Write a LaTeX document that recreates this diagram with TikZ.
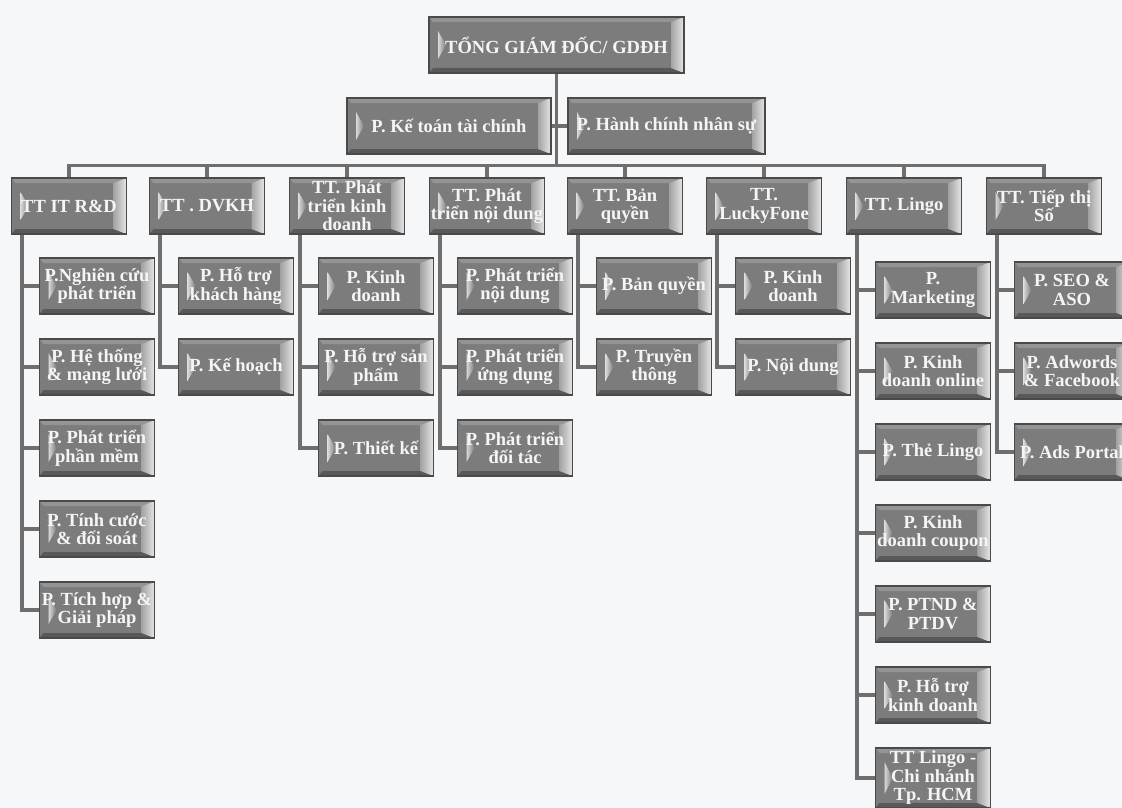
\documentclass[tikz,border=0pt]{standalone}
\usepackage{fontspec}
\setmainfont{Liberation Serif}
\usetikzlibrary{backgrounds}
\definecolor{bg}{HTML}{F6F7F9}
\definecolor{boxfill}{HTML}{7C7C7C}
\definecolor{boxedge}{HTML}{4A4A4A}
\definecolor{wirec}{HTML}{6E6E6E}
\newcommand\oneline[1]{\makebox[0pt]{#1}}
\tikzset{
  bx/.style={draw=boxedge, line width=1.2pt, fill=boxfill, minimum width=115pt,
    minimum height=56pt, inner sep=0pt, align=center, text=white!96!black,
    font=\fontsize{18.5}{18.5}\selectfont\bfseries,
    path picture={
      \fill[boxfill!82!white] (path picture bounding box.north west) -- (path picture bounding box.north east)
        -- ([xshift=-13pt,yshift=-5pt]path picture bounding box.north east)
        -- ([xshift=4pt,yshift=-5pt]path picture bounding box.north west) -- cycle;
      \fill[boxfill!72!black] (path picture bounding box.south west) -- (path picture bounding box.south east)
        -- ([xshift=-13pt,yshift=5pt]path picture bounding box.south east)
        -- ([xshift=4pt,yshift=5pt]path picture bounding box.south west) -- cycle;
      \shade[left color=boxfill!70!white, right color=white!90!black]
        (path picture bounding box.north east) -- ([xshift=-13pt,yshift=-5pt]path picture bounding box.north east)
        -- ([xshift=-13pt,yshift=5pt]path picture bounding box.south east) -- (path picture bounding box.south east) -- cycle;
      \shade[left color=white!85!black, right color=boxfill]
        ([xshift=9pt,yshift=-14pt]path picture bounding box.north west) -- ([xshift=17pt]path picture bounding box.west)
        -- ([xshift=9pt,yshift=14pt]path picture bounding box.south west) -- cycle;
    }},
  wire/.style={draw=wirec, line width=3.6pt},
}
\begin{document}
\begin{tikzpicture}[x=1pt,y=-1pt]
\useasboundingbox (0,0) rectangle (1122,808);
% top levels
\node[bx, minimum width=255pt] (top) at (556.5,45) {TỔNG GIÁM ĐỐC/ GDĐH};
\node[bx, minimum width=204pt] (kt) at (449,126) {\oneline{P. Kế toán tài chính}};
\node[bx, minimum width=197pt] (hc) at (666.5,126) {\oneline{P. Hành chính nhân sự}};
% centres
\node[bx] (c1) at (69,206) {\oneline{TT IT R\&D}};
\node[bx] (c2) at (207,206) {\oneline{TT . DVKH}};
\node[bx] (c3) at (347,206) {\oneline{TT. Phát}\\\oneline{triển kinh}\\\oneline{doanh}};
\node[bx] (c4) at (487,206) {\oneline{TT. Phát}\\\oneline{triển nội dung}};
\node[bx] (c5) at (625,206) {\oneline{TT. Bản}\\\oneline{quyền}};
\node[bx] (c6) at (764,206) {\oneline{TT.}\\\oneline{LuckyFone}};
\node[bx] (c7) at (904,206) {\oneline{TT. Lingo}};
\node[bx] (c8) at (1044,206) {\oneline{TT. Tiếp thị}\\\oneline{Số}};
% column 1
\node[bx] (a1) at (97,286) {\oneline{P.Nghiên cứu}\\\oneline{phát triển}};
\node[bx] (a2) at (97,367) {\oneline{P. Hệ thống}\\\oneline{\& mạng lưới}};
\node[bx] (a3) at (97,448) {\oneline{P. Phát triển}\\\oneline{phần mềm}};
\node[bx] (a4) at (97,529) {\oneline{P. Tính cước}\\\oneline{\& đối soát}};
\node[bx] (a5) at (97,610) {\oneline{P. Tích hợp \&}\\\oneline{Giải pháp}};
% column 2
\node[bx] (b1) at (236,286) {\oneline{P. Hỗ trợ}\\\oneline{khách hàng}};
\node[bx] (b2) at (236,367) {\oneline{P. Kế hoạch}};
% column 3
\node[bx] (d1) at (376,286) {\oneline{P. Kinh}\\\oneline{doanh}};
\node[bx] (d2) at (376,367) {\oneline{P. Hỗ trợ sản}\\\oneline{phẩm}};
\node[bx] (d3) at (376,448) {\oneline{P. Thiết kế}};
% column 4
\node[bx] (e1) at (515,286) {\oneline{P. Phát triển}\\\oneline{nội dung}};
\node[bx] (e2) at (515,367) {\oneline{P. Phát triển}\\\oneline{ứng dụng}};
\node[bx] (e3) at (515,448) {\oneline{P. Phát triển}\\\oneline{đối tác}};
% column 5
\node[bx] (f1) at (654,286) {\oneline{P. Bản quyền}};
\node[bx] (f2) at (654,367) {\oneline{P. Truyền}\\\oneline{thông}};
% column 6
\node[bx] (g1) at (793,286) {\oneline{P. Kinh}\\\oneline{doanh}};
\node[bx] (g2) at (793,367) {\oneline{P. Nội dung}};
% column 7
\node[bx] (h1) at (933,290) {\oneline{P.}\\\oneline{Marketing}};
\node[bx] (h2) at (933,371) {\oneline{P. Kinh}\\\oneline{doanh online}};
\node[bx] (h3) at (933,452) {\oneline{P. Thẻ Lingo}};
\node[bx] (h4) at (933,533) {\oneline{P. Kinh}\\\oneline{doanh coupon}};
\node[bx] (h5) at (933,614) {\oneline{P. PTND \&}\\\oneline{PTDV}};
\node[bx] (h6) at (933,695) {\oneline{P. Hỗ trợ}\\\oneline{kinh doanh}};
\node[bx, minimum height=60pt] (h7) at (933,778) {\oneline{TT Lingo -}\\\oneline{Chi nhánh}\\\oneline{Tp. HCM}};
% column 8
\node[bx] (k1) at (1072,290) {\oneline{P. SEO \&}\\\oneline{ASO}};
\node[bx] (k2) at (1072,371) {\oneline{P. Adwords}\\\oneline{\& Facebook}};
\node[bx] (k3) at (1072,452) {\oneline{P. Ads Portal}};
% connectors
\begin{pgfonlayer}{background}
\fill[bg] (0,0) rectangle (1122,808);
\draw[wire] (top.south) -- ([yshift=12pt]top.south |- c1.north);
\draw[wire] (kt.east) -- (hc.west);
\draw[wire] (c1.north) -- ++(0,-12) -| (c8.north);
\foreach \n in {c2,c3,c4,c5,c6,c7} \draw[wire] (\n.north) -- ++(0,-12);
\foreach \p/\kids in {c1/{a1,a2,a3,a4,a5}, c2/{b1,b2}, c3/{d1,d2,d3}, c4/{e1,e2,e3},
    c5/{f1,f2}, c6/{g1,g2}, c7/{h1,h2,h3,h4,h5,h6,h7}, c8/{k1,k2,k3}}
  \foreach \k in \kids \draw[wire] ([xshift=11pt]\p.south west) |- (\k.west);
\end{pgfonlayer}
\end{tikzpicture}
\end{document}
